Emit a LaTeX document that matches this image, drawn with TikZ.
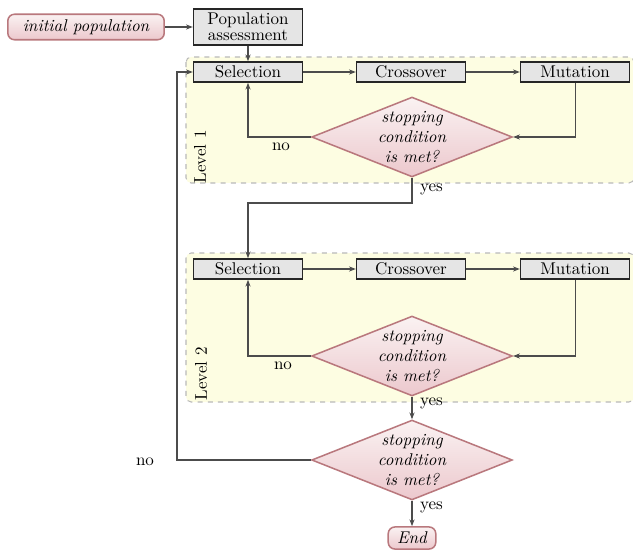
\documentclass[tikz,border=0pt]{standalone}
\usetikzlibrary{shapes.geometric,arrows.meta}
\definecolor{rosebd}{RGB}{185,120,125}
\definecolor{rosetop}{RGB}{250,242,242}
\definecolor{rosebot}{RGB}{236,200,205}
\definecolor{lvlfill}{RGB}{253,253,226}
\begin{document}
\begin{tikzpicture}[x=0.588pt,y=-0.588pt,
  box/.style={draw=black!85, line width=0.9pt, fill=gray!20, minimum width=64pt, minimum height=11.8pt, inner sep=1pt},
  decision/.style={diamond, draw=rosebd, line width=0.9pt, top color=rosetop, bottom color=rosebot, minimum width=118pt, minimum height=47pt, inner sep=-12pt, align=center, font=\itshape},
  term/.style={rounded corners=4pt, draw=rosebd, line width=0.9pt, top color=rosetop, bottom color=rosebot, font=\itshape, inner sep=1pt},
  arr/.style={draw=black!70, line width=0.6pt, -{Stealth[length=4pt,width=3pt]}},
  lvl/.style={draw=gray!55, dashed, line width=0.6pt, fill=lvlfill, rounded corners=3pt},
  lbl/.style={font=\normalsize, inner sep=1pt}]
\useasboundingbox (0,0) rectangle (633,552);
% level panels
\draw[lvl] (186,57) rectangle (634,183);
\draw[lvl] (186,253) rectangle (634,402);
\node[rotate=90] (lv1) at (200,157) {Level 1};
\node[rotate=90] (lv2) at (201,374) {Level 2};
% nodes
\node[term, minimum width=92pt, minimum height=15pt] (init) at (86,27) {initial population};
\node[box, minimum height=21pt, align=center] (pa) at (248,27) {Population\\[-2.5pt]assessment};
\node[box] (s1) at (248,72) {Selection};
\node[box] (c1) at (411,72) {Crossover};
\node[box] (m1) at (575,72) {Mutation};
\node[decision] (d1) at (412,137) {stopping\\condition\\is met?};
\node[box] (s2) at (248,269) {Selection};
\node[box] (c2) at (411,269) {Crossover};
\node[box] (m2) at (575,269) {Mutation};
\node[decision] (d2) at (412,356) {stopping\\condition\\is met?};
\node[decision] (d3) at (412,460) {stopping\\condition\\is met?};
\node[term, minimum width=28pt, minimum height=13pt] (end) at (412,538) {End};
\coordinate (turn1) at (412,203);
\coordinate (back) at (177,460);
% connectors
\draw[arr] (init) -- (pa);
\draw[arr] (pa) -- (s1);
\draw[arr] (s1) -- (c1);
\draw[arr] (c1) -- (m1);
\draw[arr] (m1.south) |- (d1.east);
\draw[arr] (d1.west) -| (s1.south);
\draw[arr] (d1.south) -- (turn1) -| (s2.north);
\draw[arr] (s2) -- (c2);
\draw[arr] (c2) -- (m2);
\draw[arr] (m2.south) |- (d2.east);
\draw[arr] (d2.west) -| (s2.south);
\draw[arr] (d2.south) -- (d3.north);
\draw[arr] (d3.west) -- (back) |- (s1.west);
\draw[arr] (d3.south) -- (end.north);
% labels
\node[lbl] (no1) at (281,147) {no};
\node[lbl, anchor=west] (yes1) at (418,189) {yes};
\node[lbl] (no2) at (283,366) {no};
\node[lbl, anchor=west] (yes2) at (418,403) {yes};
\node[lbl] (no3) at (145,462) {no};
\node[lbl, anchor=west] (yes3) at (418,507) {yes};
\end{tikzpicture}
\end{document}
